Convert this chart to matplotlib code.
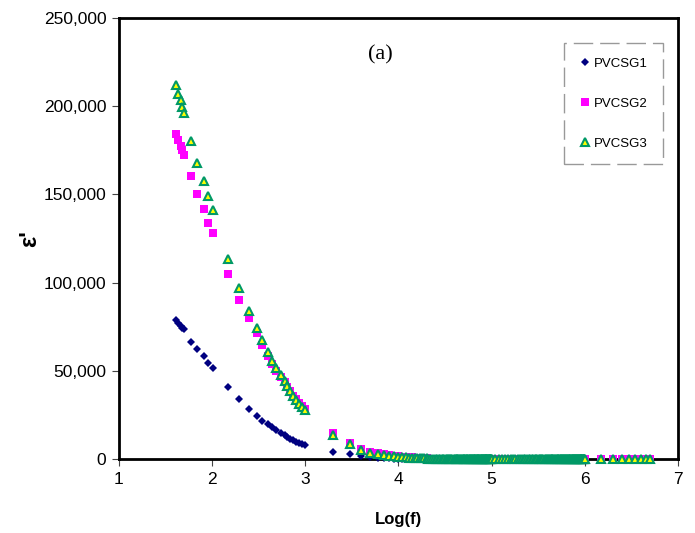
import matplotlib
matplotlib.use("Agg")
import matplotlib.pyplot as plt
from matplotlib.ticker import FuncFormatter
import numpy as np

# log(f) of the points that stand clear of the axis
logf = [1.612, 1.636, 1.662, 1.672, 1.697, 1.769, 1.840, 1.909, 1.952, 2.005,
        2.170, 2.291, 2.392, 2.477, 2.531, 2.595, 2.638, 2.688, 2.735, 2.778,
        2.806, 2.835, 2.870, 2.899, 2.928, 2.960, 3.000, 3.301, 3.477, 3.602,
        3.699, 3.778, 3.845, 3.903, 3.954, 4.000, 4.041, 4.079, 4.114, 4.146,
        4.176, 4.204, 4.230, 4.255, 4.279, 4.301]

# epsilon' in thousands
g1 = [78.8, 77.2, 75.5, 74.3, 73.5, 66.5, 62.5, 58.3, 54.4, 51.8,
      40.8, 33.8, 28.6, 24.6, 21.5, 19.9, 18.2, 16.5, 14.7, 13.5,
      12.5, 11.5, 10.6, 9.7, 8.9, 8.3, 7.7, 3.8, 2.8, 1.7,
      1.0, 0.6, 0.4, 0.3, 0.2, 0.15, 0.1, 0.1, 0.1, 0.1,
      0.1, 0.1, 0.1, 0.1, 0.1, 0.1]
g2 = [184.1, 180.7, 177.4, 174.9, 172.2, 160.2, 150.0, 141.5, 133.9, 128.2,
      104.9, 90.0, 79.7, 71.2, 64.4, 58.5, 53.8, 50.0, 46.5, 43.5,
      41.0, 38.5, 36.0, 33.8, 31.8, 29.8, 28.2, 14.6, 9.0, 5.5,
      4.0, 3.2, 2.6, 2.2, 1.9, 1.6, 1.3, 1.1, 1.0, 0.9,
      0.8, 0.7, 0.6, 0.55, 0.5, 0.45]
g3 = [211.9, 207.2, 203.4, 199.6, 196.2, 180.3, 168.0, 157.6, 148.9, 140.9,
      113.6, 97.0, 83.9, 74.4, 67.2, 60.8, 55.5, 51.5, 47.7, 44.5,
      41.5, 38.6, 36.0, 33.5, 31.4, 29.4, 27.7, 13.6, 8.4, 5.1,
      3.6, 2.8, 2.3, 1.9, 1.7, 1.3, 1.1, 0.95, 0.85, 0.75,
      0.65, 0.6, 0.5, 0.45, 0.4, 0.35]

# higher frequencies (kHz) where all three series sit on zero
band_khz = [21, 22, 23, 24, 25, 26, 27, 28, 29, 30, 31, 32, 33, 34, 35, 36, 37, 38, 39, 40,
            41, 42, 43, 44, 45, 46, 47, 48, 49, 50, 51, 52, 53, 54, 55, 56, 57, 58, 59, 60,
            61, 62, 63, 64, 65, 66, 67, 68, 69, 70, 71, 72, 73, 74, 75, 76, 77, 78, 79, 80,
            81, 82, 83, 84, 85, 86, 87, 88, 89, 90, 91, 92, 93, 94, 95, 96, 97, 98, 99, 100,
            110, 120, 130, 140, 150, 160, 170, 180, 190, 200, 210, 220, 230, 240, 250,
            260, 270, 280, 290, 300, 310, 320, 330, 340, 350, 360, 370, 380, 390, 400,
            410, 420, 430, 440, 450, 460, 470, 480, 490, 500, 510, 520, 530, 540, 550,
            560, 570, 580, 590, 600, 610, 620, 630, 640, 650, 660, 670, 680, 690, 700,
            710, 720, 730, 740, 750, 760, 770, 780, 790, 800, 810, 820, 830, 840, 850,
            860, 870, 880, 890, 900, 910, 920, 930, 940, 950, 960, 970, 980, 990, 1000,
            1500, 2000, 2500, 3000, 3500, 4000, 4500, 5000]
band_eps = [0.0] * len(band_khz)  # read as zero everywhere

x = np.concatenate([logf, np.log10(np.array(band_khz) * 1000.0)])
y1 = np.concatenate([g1, band_eps]) * 1000
y2 = np.concatenate([g2, band_eps]) * 1000
y3 = np.concatenate([g3, band_eps]) * 1000

plt.rcParams['font.family'] = ['Liberation Sans', 'DejaVu Sans']

fig = plt.figure(figsize=(6.95, 5.33), dpi=100)
ax = fig.add_axes([0.1712, 0.1388, 0.8043, 0.8274])

ax.plot(x, y1, 'D', color='#000080', markersize=4.4, markeredgewidth=0,
        label='PVCSG1', clip_on=False, zorder=3)
ax.plot(x, y2, 's', color='#ff00ff', markersize=5.2, markeredgewidth=0,
        label='PVCSG2', clip_on=False, zorder=3)
ax.plot(x, y3, '^', markerfacecolor='#ffff00', markeredgecolor='#009966',
        markersize=6.3, markeredgewidth=1.5, label='PVCSG3', clip_on=False, zorder=3)

ax.set_xlim(1, 7)
ax.set_ylim(0, 250000)
ax.set_xticks(range(1, 8))
ax.set_yticks(range(0, 250001, 50000))
ax.yaxis.set_major_formatter(FuncFormatter(lambda v, p: f"{int(v):,}"))
ax.tick_params(direction='out', length=5, width=0.8, colors='#444444', labelcolor='black',
               labelsize=12.5, pad=4)

for s in ax.spines.values():
    s.set_linewidth(2)
    s.set_color('black')

ax.set_xlabel('Log(f)', fontsize=12, fontweight='bold', labelpad=18)
ax.set_ylabel("ε'", fontsize=17, fontweight='bold', labelpad=2)

ax.text(0.467, 0.916, '(a)', transform=ax.transAxes, ha='center', va='center',
        fontsize=16, family='Liberation Serif')

leg = ax.legend(loc='upper left', bbox_to_anchor=(0.796, 0.943), fontsize=9.5,
                frameon=True, fancybox=False, labelspacing=2.1, handletextpad=0.2,
                handlelength=1.0, borderpad=1.1, markerscale=1.0, borderaxespad=0)
fr = leg.get_frame()
fr.set_edgecolor('#808080')
fr.set_linewidth(1.0)
fr.set_linestyle((0, (14, 5)))

fig.savefig('out.png', dpi=100)
